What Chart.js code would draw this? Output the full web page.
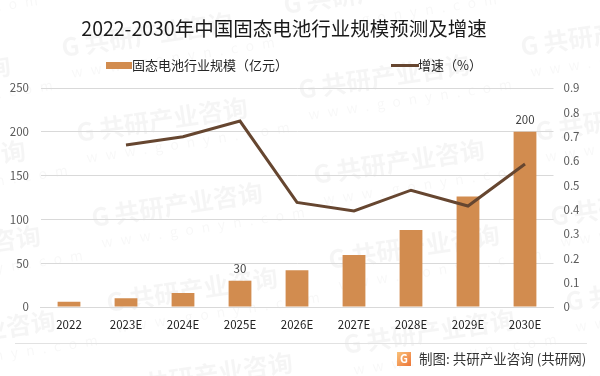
<!DOCTYPE html>
<html><head><meta charset="utf-8">
<script src="https://cdn.jsdelivr.net/npm/chart.js@4"></script>
<style>html,body{margin:0;padding:0;background:#fff}canvas{display:block}</style>
</head><body><canvas id="c" width="600" height="376"></canvas>
<script>
const categories = ['2022','2023E','2024E','2025E','2026E','2027E','2028E','2029E','2030E'];
const marketSize = [6,10,16,30,42,59.5,88,126,200];
const growthRate = [null,0.666,0.70,0.764,0.43,0.395,0.48,0.415,0.588];
const labelledBars = [3,8];
const leftTicks = [0,50,100,150,200,250];
const barName = '固态电池行业规模（亿元）';
const lineName = '增速（%）';
const titleText = '2022-2030年中国固态电池行业规模预测及增速';
const footerText = '制图: 共研产业咨询 (共研网)';
const BAR='#D28C4F', LINE='#664630', FONT='"Noto Sans CJK SC","Noto Sans",sans-serif';

function swatch(w,h,col){const s=document.createElement('canvas');s.width=w;s.height=h;const x=s.getContext('2d');x.fillStyle=col;x.fillRect(0,0,w,h);return s;}
const barSw=swatch(26,7,BAR), lineSw=swatch(28,3,LINE);

const decor={id:'decor',
 beforeLayout(ch){
  const l=ch.legend;
  if(l&&!l._wrapped){const f=l.fit;l.fit=function(){f.call(this);this.height=33.6;};l._wrapped=true;}
 },
 afterLayout(ch){
  if(ch.legend){const b=ch.legend;b.left-=2.75;b.right-=2.75;b.top-=106.4;}
  if(ch.titleBlock){const b=ch.titleBlock;b.left-=16;b.right-=16;}
 },
 beforeDraw(ch){
  const c=ch.ctx;c.save();
  c.fillStyle='#fff';c.fillRect(0,0,600,376);
  for(let i=-3;i<5;i++)for(let j=-3;j<6;j++){
    const x=78+i*222+j*15,y=142-i*43+j*85;
    c.save();c.translate(x,y);c.rotate(-0.15);
    c.fillStyle='rgba(0,0,0,0.04)';
    c.font='bold 25px '+FONT;c.textAlign='left';c.textBaseline='alphabetic';
    c.fillText('G',0,0);c.fillText('共研产业咨询',23,0);
    c.fillStyle='rgba(0,0,0,0.03)';
    c.font='14px '+FONT;c.letterSpacing='8px';c.fillText('www.gonyn.com',6,22);c.letterSpacing='0px';
    c.restore();
  }
  c.restore();
 },
 afterDatasetsDraw(ch){
  const c=ch.ctx,m=ch.getDatasetMeta(0);c.save();
  c.fillStyle='#404040';c.font='11.5px '+FONT;c.textAlign='center';c.textBaseline='bottom';
  labelledBars.forEach(i=>c.fillText(String(marketSize[i]),m.data[i].x,m.data[i].y-6));
  c.strokeStyle='#e2e2e2';c.lineWidth=1;c.beginPath();c.moveTo(15,343.5);c.lineTo(587,343.5);c.stroke();
  const g=c.createLinearGradient(397,352,410,365);g.addColorStop(0,'#F9C27A');g.addColorStop(1,'#EE7A3C');
  c.fillStyle=g;c.fillRect(397,352,14,14);
  c.fillStyle='#fff';c.font='bold 11px '+FONT;c.textAlign='center';c.textBaseline='middle';c.fillText('G',404,359);
  c.fillStyle='#333';c.font='13.5px '+FONT;c.textAlign='left';c.fillText(footerText,419,358.5);
  c.restore();
 }};

new Chart(document.getElementById('c'),{
 plugins:[decor],
 data:{labels:categories,datasets:[
  {type:'bar',label:barName,data:marketSize,backgroundColor:BAR,yAxisID:'y',order:2,barPercentage:0.4,categoryPercentage:1},
  {type:'line',label:lineName,data:growthRate,borderColor:LINE,backgroundColor:LINE,borderWidth:3,pointRadius:0,tension:0,yAxisID:'y1',order:1,spanGaps:false}
 ]},
 options:{responsive:false,animation:false,
  layout:{padding:0},
  scales:{
   x:{grid:{display:false},border:{color:'#d9d9d9'},
      ticks:{color:'#222',font:{family:FONT,size:11.5},maxRotation:0,padding:3},
      afterFit(s){s.height=69;}},
   y:{position:'left',min:0,max:250,grid:{color:'#d9d9d9',drawTicks:false},border:{display:false},
      afterBuildTicks(s){s.ticks=leftTicks.map(v=>({value:v}));},
      ticks:{color:'#595959',font:{family:FONT,size:11.5},padding:11.5},
      afterFit(s){s.width=40.5;}},
   y1:{position:'right',min:0,max:0.9,grid:{display:false,drawTicks:false},border:{display:false},
      ticks:{stepSize:0.1,autoSkip:false,color:'#595959',font:{family:FONT,size:11.5},padding:10},
      afterFit(s){s.width=46.5;}}
  },
  plugins:{
   tooltip:{enabled:false},
   title:{display:true,text:titleText,color:'#1a1a1a',font:{family:FONT,size:19.5,weight:'normal'},padding:{top:17,bottom:14}},
   legend:{display:true,position:'top',align:'center',
    labels:{boxWidth:19,boxHeight:13,usePointStyle:true,padding:110.5,color:'#262626',font:{family:FONT,size:13},
     generateLabels(){return [
      {text:barName,pointStyle:barSw,fontColor:'#262626',datasetIndex:0,hidden:false},
      {text:lineName,pointStyle:lineSw,fontColor:'#262626',datasetIndex:1,hidden:false}];}
    }}
  }
 }
});
</script></body></html>
